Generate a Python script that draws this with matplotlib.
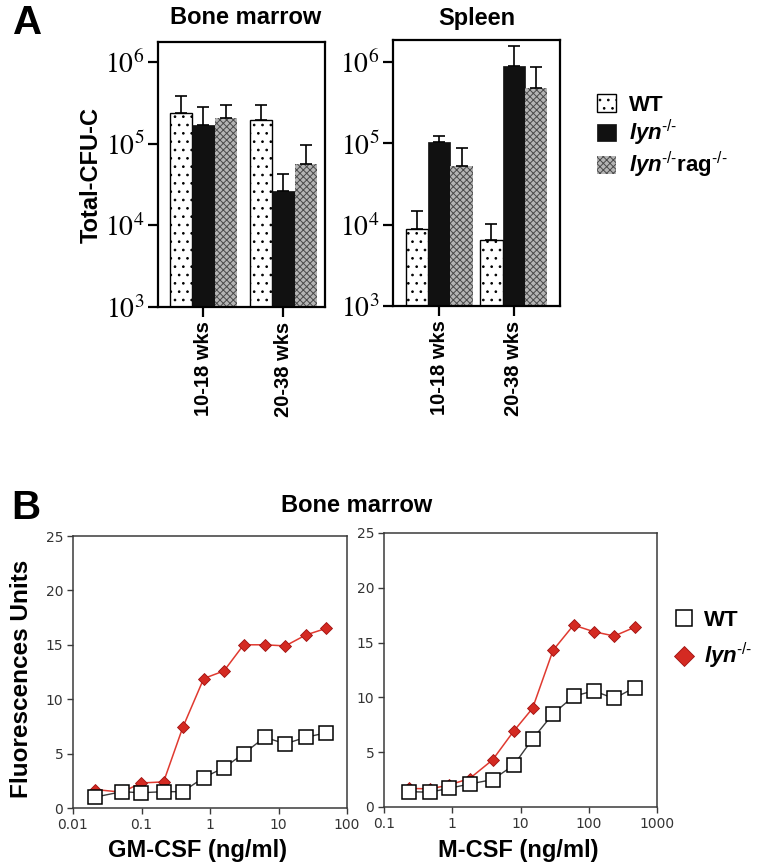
import matplotlib
matplotlib.use("Agg")
from matplotlib import pyplot as plt
from matplotlib.lines import Line2D
from matplotlib.ticker import NullLocator
import numpy as np

plt.rcParams['font.family'] = ['Liberation Sans', 'DejaVu Sans']
plt.rcParams['mathtext.fontset'] = 'custom'
plt.rcParams['mathtext.rm'] = 'Liberation Sans'
plt.rcParams['mathtext.bf'] = 'Liberation Sans:bold'
plt.rcParams['mathtext.it'] = 'Liberation Sans:italic'
plt.rcParams['mathtext.bfit'] = 'Liberation Sans:bold:italic'
plt.rcParams['hatch.linewidth'] = 0.7

# panel A data
ages = ['10-18 wks', '20-38 wks']
genotypes = ['WT', r'$\mathbfit{lyn}^{\text{-/-}}$',
             r'$\mathbfit{lyn}^{\text{-/-}}\mathbf{rag}^{\text{-/-}}$']
bm_mean = {'WT': [2.4e5, 1.95e5], 'lyn': [1.7e5, 2.65e4], 'rag': [2.05e5, 5.6e4]}
bm_top = {'WT': [3.8e5, 3.0e5], 'lyn': [2.8e5, 4.2e4], 'rag': [3.0e5, 9.6e4]}
sp_mean = {'WT': [8.9e3, 6.5e3], 'lyn': [1.05e5, 8.9e5], 'rag': [5.3e4, 4.8e5]}
sp_top = {'WT': [1.48e4, 1.02e4], 'lyn': [1.24e5, 1.55e6], 'rag': [8.7e4, 8.7e5]}

# panel B data
gm_dose = [0.021, 0.052, 0.098, 0.21, 0.40, 0.81, 1.6, 3.1, 6.3, 12.6, 25, 49]
gm_wt = [1.0, 1.5, 1.4, 1.5, 1.5, 2.8, 3.7, 5.0, 6.5, 5.9, 6.5, 6.9]
gm_lyn = [1.7, 1.45, 2.3, 2.4, 7.4, 11.9, 12.6, 15.0, 15.0, 14.9, 15.9, 16.5]
m_dose = [0.23, 0.47, 0.89, 1.8, 3.9, 7.9, 15, 30, 60, 118, 236, 470]
m_wt = [1.4, 1.35, 1.7, 2.1, 2.5, 3.8, 6.2, 8.5, 10.1, 10.6, 9.9, 10.9]
m_lyn = [1.7, 1.65, 2.0, 2.6, 4.3, 6.9, 9.0, 14.3, 16.6, 16.0, 15.6, 16.4]

W, H = 762, 868
fig = plt.figure(figsize=(W / 100, H / 100), dpi=100)


def px_axes(x0, y0, x1, y1):
    return fig.add_axes([x0 / W, 1 - y1 / H, (x1 - x0) / W, (y1 - y0) / H])


bar_style = {
    'WT': dict(facecolor='white', edgecolor='black', hatch='..', linewidth=1.0),
    'lyn': dict(facecolor='#111111', edgecolor='#111111', linewidth=0.5),
    'rag': dict(facecolor='#b4b4b4', edgecolor='#4a4a4a', hatch='xxxxx', linewidth=0),
}


def bar_panel(ax, means, tops, width, xlim, ytop):
    x = np.arange(len(ages))
    handles = []
    for i, key in enumerate(['WT', 'lyn', 'rag']):
        pos = x + (i - 1) * width
        m = np.array(means[key])
        t = np.array(tops[key])
        b = ax.bar(pos, m, width, **bar_style[key])
        ax.errorbar(pos, m, yerr=[np.zeros_like(m), t - m], fmt='none',
                    ecolor='black', elinewidth=1.2, capsize=4, capthick=1.2)
        handles.append(b)
    ax.set_yscale('log')
    ax.set_ylim(1e3, ytop)
    ax.set_xlim(*xlim)
    ax.yaxis.set_minor_locator(NullLocator())
    ax.set_yticks([1e3, 1e4, 1e5, 1e6])
    ax.set_yticklabels([r'$\mathrm{10^{%d}}$' % k for k in (3, 4, 5, 6)], fontsize=20)
    for lab in ax.get_yticklabels():
        lab.set_math_fontfamily('stix')
    ax.set_xticks(x)
    ax.set_xticklabels(ages, rotation=90, fontsize=14.5, fontweight='bold')
    ax.tick_params(axis='both', direction='out', length=7.5, width=1.6, pad=2)
    ax.tick_params(axis='x', pad=3)
    for s in ax.spines.values():
        s.set_linewidth(1.6)
    return handles


axA1 = px_axes(158, 42, 325, 307)
hs = bar_panel(axA1, bm_mean, bm_top, 0.28, (-0.566, 1.52), 10 ** 6.245)
axA2 = px_axes(393, 40, 560, 306)
bar_panel(axA2, sp_mean, sp_top, 0.30, (-0.62, 1.62), 10 ** 6.27)

fig.text(246 / W, 1 - 18 / H, 'Bone marrow', ha='center', va='center', fontsize=17, fontweight='bold')
fig.text(477 / W, 1 - 18 / H, 'Spleen', ha='center', va='center', fontsize=17, fontweight='bold')
fig.text(13 / W, 1 - 23 / H, 'A', ha='left', va='center', fontsize=29, fontweight='bold')
fig.text(91 / W, 1 - 175 / H, 'Total-CFU-C', ha='center', va='center', rotation=90,
         fontsize=17, fontweight='bold')

fig.legend(hs, genotypes, loc='upper left', bbox_to_anchor=(597 / W, 1 - 94 / H),
           frameon=False, handlelength=0.85, handleheight=0.85, borderpad=0, borderaxespad=0,
           handletextpad=0.6, labelspacing=0.1, prop={'weight': 'bold', 'size': 16})

# panel B
gray = '#3a3a3a'


def line_panel(ax, dose, wt, lyn, xlim, xticks, xlabels, xlabel, xlab_pos):
    ax.plot(dose, wt, color=gray, lw=1.0, marker='s', markersize=9.5,
            markerfacecolor='white', markeredgecolor='black', markeredgewidth=1.1, zorder=3)
    ax.plot(dose, lyn, color='#e03a30', lw=1.1, marker='D', markersize=6,
            markerfacecolor='#d42a22', markeredgecolor='#a01010', markeredgewidth=0.6, zorder=2)
    ax.set_xscale('log')
    ax.set_xlim(*xlim)
    ax.set_ylim(0, 25)
    ax.xaxis.set_minor_locator(NullLocator())
    ax.set_xticks(xticks)
    ax.set_xticklabels(xlabels)
    ax.set_yticks([0, 5, 10, 15, 20, 25])
    ax.tick_params(axis='both', direction='out', length=4, width=1.0, color=gray,
                   labelcolor='#333333', labelsize=10, pad=3, labelfontfamily='DejaVu Sans')
    for s in ax.spines.values():
        s.set_linewidth(1.1)
        s.set_color(gray)
    ax.set_xlabel(xlabel, fontsize=17, fontweight='bold')
    ax.xaxis.set_label_coords(xlab_pos, -0.115)


axB1 = px_axes(73, 536, 347, 808)
line_panel(axB1, gm_dose, gm_wt, gm_lyn, (0.01, 100), [0.01, 0.1, 1, 10, 100],
           ['0.01', '0.1', '1', '10', '100'], 'GM-CSF (ng/ml)', (197 - 73) / 274)
axB2 = px_axes(384, 533, 657, 807)
line_panel(axB2, m_dose, m_wt, m_lyn, (0.1, 1000), [0.1, 1, 10, 100, 1000],
           ['0.1', '1', '10', '100', '1000'], 'M-CSF (ng/ml)', (518 - 384) / 273)

fig.text(22 / W, 1 - 679 / H, 'Fluorescences Units', ha='center', va='center', rotation=90,
         fontsize=17.5, fontweight='bold')
fig.text(357 / W, 1 - 505 / H, 'Bone marrow', ha='center', va='center', fontsize=17, fontweight='bold')
fig.text(11 / W, 1 - 508 / H, 'B', ha='left', va='center', fontsize=29, fontweight='bold')

hb = [Line2D([], [], ls='none', marker='s', markersize=11.5, markerfacecolor='white',
             markeredgecolor='black', markeredgewidth=1.1),
      Line2D([], [], ls='none', marker='D', markersize=10, markerfacecolor='#d42a22',
             markeredgecolor='#a01010', markeredgewidth=0.6)]
fig.legend(hb, ['WT', r'$\mathbfit{lyn}^{\text{-/-}}$'], loc='upper left',
           bbox_to_anchor=(673 / W, 1 - 610 / H), frameon=False, handlelength=1.0,
           borderpad=0, borderaxespad=0,
           handletextpad=0.4, labelspacing=0.45, prop={'weight': 'bold', 'size': 16})

fig.savefig('out.png', dpi=100)
